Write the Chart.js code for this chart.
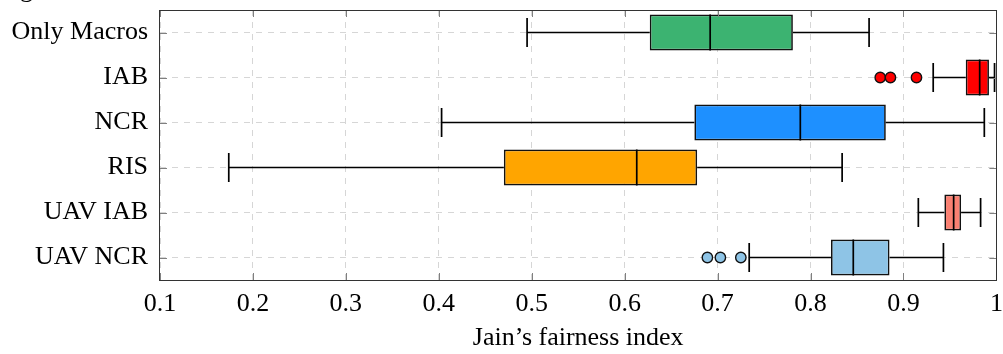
<!DOCTYPE html>
<html>
  <head>
    <meta charset="utf-8">
    <title>Jain's fairness index</title>
    <script src="https://cdn.jsdelivr.net/npm/chart.js@4.4.0/dist/chart.umd.min.js"></script>
    <style>
      html, body { margin: 0; padding: 0; background: #fff; }
      #wrap { width: 1003px; height: 354px; }
    </style>
  </head>

  <body>
    <div id="wrap"><canvas id="box-chart" width="1003" height="354"></canvas></div>
  </body>

  <script>
    // values
    var categories = ["Only Macros", "IAB", "NCR", "RIS", "UAV IAB", "UAV NCR"];
    var whiskerLow = [0.495, 0.932, 0.403, 0.174, 0.916, 0.734];
    var q1 = [0.627, 0.967, 0.675, 0.470, 0.944, 0.822];
    var median = [0.692, 0.982, 0.789, 0.613, 0.954, 0.846];
    var q3 = [0.781, 0.992, 0.881, 0.678, 0.962, 0.885];
    var whiskerHigh = [0.863, 0.998, 0.987, 0.834, 0.983, 0.943];
    var iabOutliers = [0.875, 0.886, 0.914];
    var uavNcrOutliers = [0.689, 0.703, 0.725];
    var boxColors = ["#3cb371", "#ff0000", "#1e90ff", "#ffa500", "#fa8072", "#8ec4e6"];
    var xTickLabels = ["0.1", "0.2", "0.3", "0.4", "0.5", "0.6", "0.7", "0.8", "0.9", "1"];

    var serif = "'Liberation Serif', 'DejaVu Serif', serif";

    // whiskers, medians, frame and inward ticks
    var boxExtras = {
      id: "boxExtras",
      afterDatasetsDraw: function(chart) {
        var ctx = chart.ctx;
        var xs = chart.scales.x, ys = chart.scales.y;
        var band = ys.getPixelForValue(1) - ys.getPixelForValue(0);
        var boxH = band * 0.8, capH = band * 0.64;
        ctx.save();
        ctx.strokeStyle = "#000";
        ctx.lineWidth = 1.7;
        for (var i = 0; i < categories.length; i++) {
          var y = ys.getPixelForValue(i);
          var lo = xs.getPixelForValue(whiskerLow[i]);
          var a = xs.getPixelForValue(q1[i]);
          var b = xs.getPixelForValue(q3[i]);
          var hi = xs.getPixelForValue(whiskerHigh[i]);
          var m = xs.getPixelForValue(median[i]);
          ctx.beginPath();
          ctx.moveTo(lo, y); ctx.lineTo(a, y);
          ctx.moveTo(b, y); ctx.lineTo(hi, y);
          ctx.moveTo(lo, y - capH / 2); ctx.lineTo(lo, y + capH / 2);
          ctx.moveTo(hi, y - capH / 2); ctx.lineTo(hi, y + capH / 2);
          ctx.moveTo(m, y - boxH / 2); ctx.lineTo(m, y + boxH / 2);
          ctx.stroke();
        }
        ctx.restore();
      },
      afterDraw: function(chart) {
        var ctx = chart.ctx, area = chart.chartArea;
        var xs = chart.scales.x, ys = chart.scales.y;
        ctx.save();
        ctx.strokeStyle = "#808080";
        ctx.lineWidth = 1;
        ctx.beginPath();
        xs.ticks.forEach(function(t) {
          var x = Math.round(xs.getPixelForValue(t.value)) + 0.5;
          ctx.moveTo(x, area.bottom); ctx.lineTo(x, area.bottom - 7);
          ctx.moveTo(x, area.top); ctx.lineTo(x, area.top + 7);
        });
        for (var i = 0; i < categories.length; i++) {
          var y = Math.round(ys.getPixelForValue(i)) + 0.5;
          ctx.moveTo(area.left, y); ctx.lineTo(area.left + 7, y);
          ctx.moveTo(area.right, y); ctx.lineTo(area.right - 7, y);
        }
        ctx.stroke();
        ctx.strokeStyle = "#333";
        ctx.strokeRect(Math.round(area.left) - 0.5, Math.round(area.top) + 0.5,
                       Math.round(area.right - area.left) + 1, Math.round(area.bottom - area.top));
        // clipped caption line above the figure
        ctx.fillStyle = "#000";
        ctx.font = "26px " + serif;
        ctx.fillText("g", 20, -3);
        ctx.restore();
      }
    };

    var boxData = categories.map(function(c, i) { return [q1[i], q3[i]]; });

    new Chart(document.getElementById("box-chart"), {
      data: {
        labels: categories,
        datasets: [
          {
            type: "bar",
            indexAxis: "y",
            data: boxData,
            backgroundColor: boxColors,
            borderColor: "#111",
            borderWidth: 1.7,
            borderSkipped: false,
            barPercentage: 0.8,
            categoryPercentage: 1.0
          },
          {
            type: "scatter",
            data: iabOutliers.map(function(v) { return { x: v, y: "IAB" }; }),
            backgroundColor: "#ff0000",
            borderColor: "#111",
            borderWidth: 1.4,
            pointRadius: 5.2
          },
          {
            type: "scatter",
            data: uavNcrOutliers.map(function(v) { return { x: v, y: "UAV NCR" }; }),
            backgroundColor: "#8ec4e6",
            borderColor: "#111",
            borderWidth: 1.4,
            pointRadius: 5.2
          }
        ]
      },
      options: {
        responsive: false,
        animation: false,
        layout: { padding: { top: 10, right: 3, left: 0, bottom: 0 } },
        plugins: { legend: { display: false }, tooltip: { enabled: false } },
        scales: {
          x: {
            type: "linear",
            position: "bottom",
            min: 0.1,
            max: 1,
            afterFit: function(scale) {
              scale.height = 74;
              scale.paddingLeft = 0;
              scale.paddingRight = 0;
            },
            ticks: {
              stepSize: 0.1,
              padding: 9,
              color: "#000",
              font: { family: serif, size: 26 },
              maxRotation: 0,
              callback: function(value, index) { return xTickLabels[index]; }
            },
            grid: { color: "#d6d6d6", lineWidth: 1, drawTicks: false },
            border: { display: false, dash: [6, 6] },
            title: {
              display: true,
              text: "Jain\u2019s fairness index",
              color: "#000",
              font: { family: serif, size: 26 },
              padding: { top: 0, bottom: 0 }
            }
          },
          y: {
            type: "category",
            labels: categories,
            position: "left",
            offset: true,
            afterFit: function(scale) {
              scale.width = 160;
              scale.paddingTop = 0;
              scale.paddingBottom = 0;
            },
            ticks: {
              padding: 12,
              color: "#000",
              font: { family: serif, size: 26 }
            },
            grid: { color: "#d6d6d6", lineWidth: 1, offset: false, drawTicks: false },
            border: { display: false, dash: [6, 6] }
          }
        }
      },
      plugins: [boxExtras]
    });
  </script>
</html>
